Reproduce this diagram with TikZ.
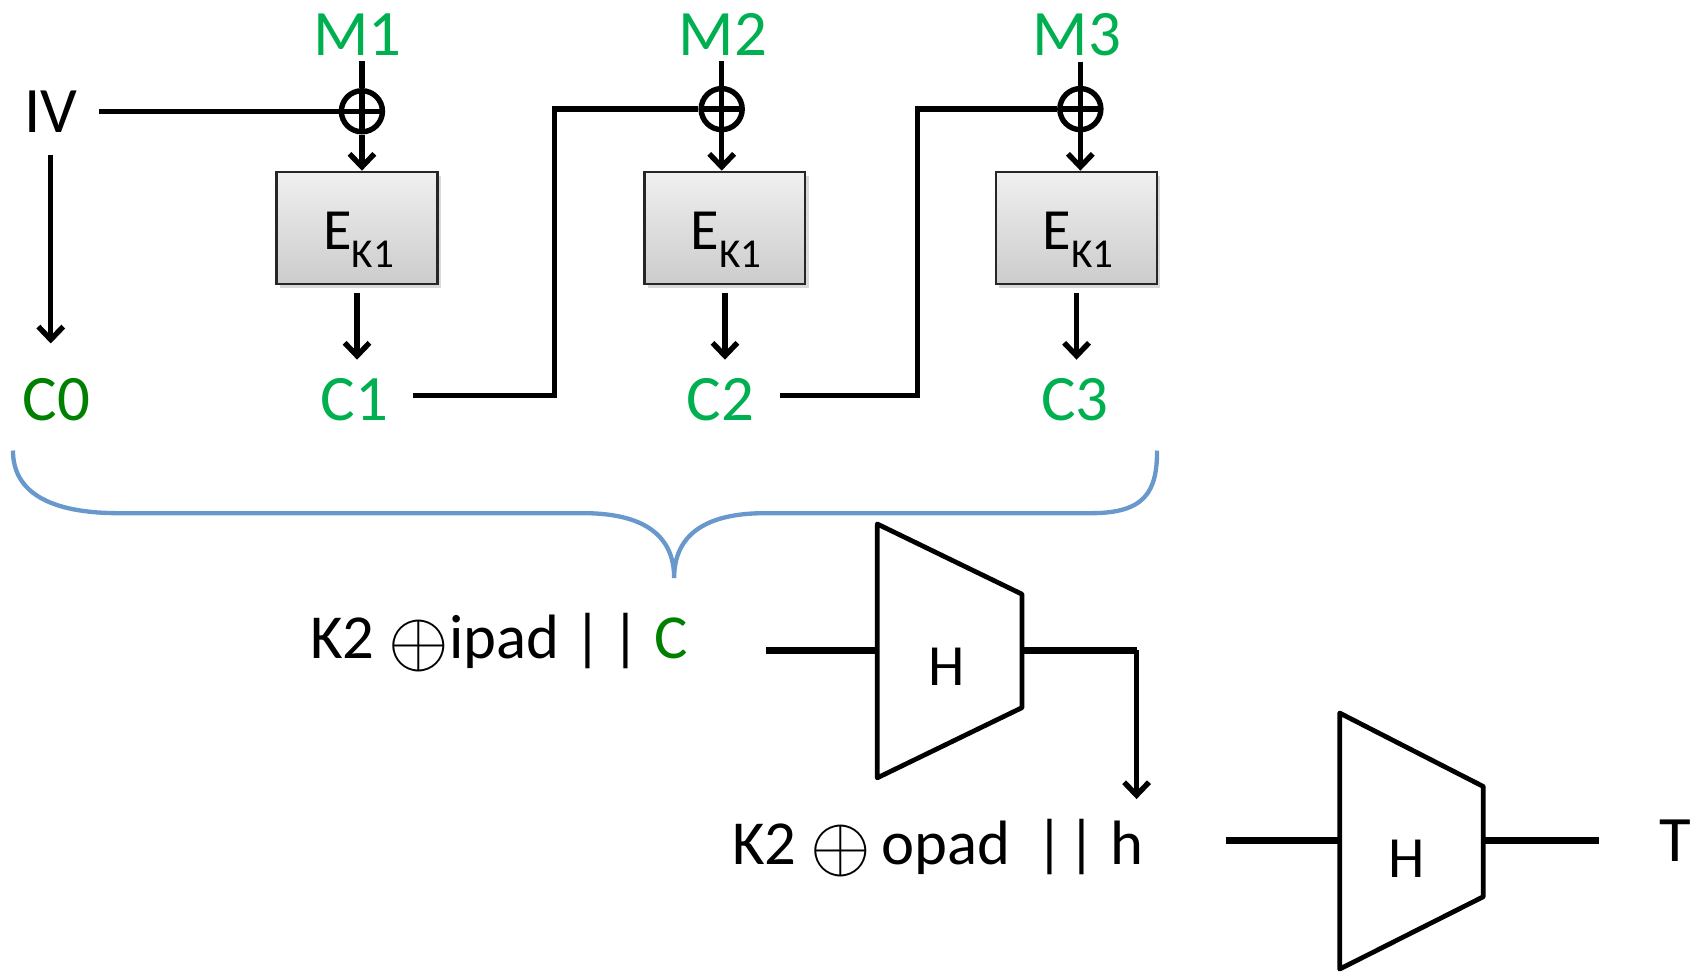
\documentclass[tikz,border=0pt]{standalone}
\usepackage{fontspec}
\setmainfont{Carlito}
\usetikzlibrary{arrows.meta,calc,shadows}
\definecolor{mgreen}{RGB}{0,176,80}
\definecolor{dgreen}{RGB}{0,128,0}
\definecolor{braceblue}{RGB}{104,152,204}
\newcommand{\bigxor}{\raisebox{-3pt}{\scalebox{1.45}{$\oplus$}}}
\begin{document}
\begin{tikzpicture}[x=0.5pt,y=-0.5pt,
  lab/.style={font=\fontsize{30}{36}\selectfont, inner sep=0pt},
  lab2/.style={font=\fontsize{29}{35}\selectfont, inner sep=0pt},
  hlab/.style={font=\fontsize{27}{32}\selectfont, inner sep=0pt},
  conn/.style={line width=2.5pt},
  arr/.style={line width=2.5pt, -{Straight Barb[length=6pt,width=11.5pt,line width=2.5pt]}},
  fat/.style={line width=3pt},
  trap/.style={line width=2.2pt, line join=round},
  xor/.style={circle, draw, line width=2.5pt, minimum size=19pt, inner sep=0pt,
    path picture={\draw[line width=2.5pt] (path picture bounding box.north) -- (path picture bounding box.south)
      (path picture bounding box.west) -- (path picture bounding box.east);}},
  ebox/.style={draw=black!85, line width=1pt, top color=gray!12, bottom color=gray!40,
    minimum width=74.5pt, minimum height=52pt, inner sep=0pt,
    drop shadow={opacity=0.3, shadow xshift=1.5pt, shadow yshift=-2pt}},
  elab/.style={font=\fontsize{27}{32}\selectfont, inner sep=0pt}
]
\useasboundingbox (0,0) rectangle (1568,899);

% top labels
\node[lab, text=mgreen] (M1) at (331,32) {M1};
\node[lab, text=mgreen] (M2) at (669,32) {M2};
\node[lab, text=mgreen] (M3) at (997,32) {M3};
\node[lab] (IV) at (47,103) {IV};

% xor
\node[xor] (X1) at (335,103) {};
\node[xor] (X2) at (668,101) {};
\node[xor] (X3) at (1000,101) {};

% boxes
\node[ebox] (B1) at (330.5,211) {};
\node[ebox] (B2) at (671,211) {};
\node[ebox] (B3) at (996.5,211) {};
\node[elab] (E1) at (332,222) {E\raisebox{-8.5pt}{\fontsize{19}{22}\selectfont K1}};
\node[elab] (E2) at (672,222) {E\raisebox{-8.5pt}{\fontsize{19}{22}\selectfont K1}};
\node[elab] (E3) at (998,222) {E\raisebox{-8.5pt}{\fontsize{19}{22}\selectfont K1}};

% C labels
\node[lab, text=dgreen] (C0) at (52,370) {C0};
\node[lab, text=mgreen] (C1) at (328,370) {C1};
\node[lab, text=mgreen] (C2) at (667,370) {C2};
\node[lab, text=mgreen] (C3) at (995,370) {C3};

% connectors top
\draw[conn, shorten <=2.5pt] (M1.south -| X1) -- (X1.north);
\draw[conn, shorten <=2.5pt] (M2.south -| X2) -- (X2.north);
\draw[conn, shorten <=2.5pt] (M3.south -| X3) -- (X3.north);
\draw[arr] (X1.south) -- (X1.south |- B1.north);
\draw[arr] (X2.south) -- (X2.south |- B2.north);
\draw[arr] (X3.south) -- (X3.south |- B3.north);
\draw[conn, shorten <=10pt] (IV.east) -- (X1.west);
\draw[arr, shorten <=10.5pt, shorten >=16pt] (IV.south) -- (IV.south |- C0.north);
\draw[arr, shorten <=3.5pt, shorten >=8.5pt] (B1.south) -- (B1.south |- C1.north);
\draw[arr, shorten <=3.5pt, shorten >=8.5pt] (B2.south) -- (B2.south |- C2.north);
\draw[arr, shorten <=3.5pt, shorten >=8.5pt] (B3.south) -- (B3.south |- C3.north);

\coordinate (J1) at (513,101);
\coordinate (J2) at (849,101);
\draw[conn] ([xshift=11.5pt,yshift=2pt]C1.east) -| (J1) -- (X2.west);
\draw[conn] ([xshift=11.5pt,yshift=2pt]C2.east) -| (J2) -- (X3.west);

% brace
\draw[braceblue, line width=2pt]
  (12,417) .. controls (12,455) and (45,475) .. (110,475) -- (540,475)
  .. controls (595,475) and (624,495) .. (624,535)
  .. controls (624,495) and (653,475) .. (708,475) -- (1010,475)
  .. controls (1060,475) and (1071,455) .. (1071,417);

% first hash
\node[lab2] (ipad) at (462,595) {K2 \bigxor ipad |\hspace{4pt}| \textcolor{dgreen}{C}};
\node[hlab] (H1) at (876,617) {H};
\draw[trap] (812,485) -- (946,550) -- (946,655) -- (812,720) -- cycle;
\coordinate (H1in) at (812,602);
\coordinate (H1out) at (946,602);
\coordinate (K) at (1052,602);
\draw[fat, shorten <=36pt] (ipad.east |- H1in) -- (H1in);
\draw[fat] (H1out) -- (K);

% second hash
\node[lab2] (opad) at (868,785) {K2 \bigxor\hspace{5pt}opad \,|\hspace{1.5pt}| h};
\draw[arr, shorten >=9pt] (K) -- (K |- opad.north);
\node[hlab] (H2) at (1302,795) {H};
\draw[trap] (1240,660) -- (1373,728) -- (1373,830) -- (1240,897) -- cycle;
\coordinate (H2in) at (1240,778);
\coordinate (H2out) at (1373,778);
\node[lab] (T) at (1551,778) {T};
\draw[fat, shorten <=38pt] (opad.east |- H2in) -- (H2in);
\draw[fat, shorten >=28pt] (H2out) -- (T.west |- H2out);
\end{tikzpicture}
\end{document}
